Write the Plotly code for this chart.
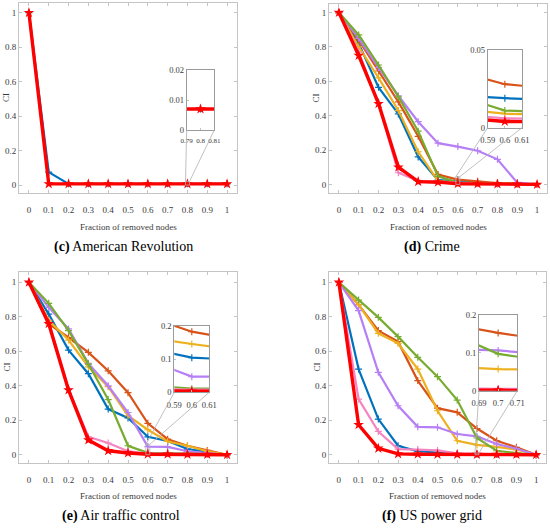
import plotly.graph_objects as go

W, H = 550, 529

x_frac = [0, 0.1, 0.2, 0.3, 0.4, 0.5, 0.6, 0.7, 0.8, 0.9, 1.0]
x_ticks = [0, 0.1, 0.2, 0.3, 0.4, 0.5, 0.6, 0.7, 0.8, 0.9, 1]
x_tick_labels = ["0", "0.1", "0.2", "0.3", "0.4", "0.5", "0.6", "0.7", "0.8", "0.9", "1"]
y_ticks = [0, 0.2, 0.4, 0.6, 0.8, 1]
y_tick_labels = ["0", "0.2", "0.4", "0.6", "0.8", "1"]

colors = {
    "blue": "#0072BD", "orange": "#D95319", "yellow": "#EDB120",
    "purple": "#B77FF5", "green": "#77AC30", "pink": "#F485C0", "red": "#FF0000",
}

# (c) American Revolution
c_blue = [1, 0.075, 0.007, 0.007, 0.007, 0.007, 0.007, 0.007, 0.007, 0.007, 0.007]
c_red = [1, 0.007, 0.007, 0.007, 0.007, 0.007, 0.007, 0.007, 0.007, 0.007, 0.007]

# (d) Crime
d_blue = [1, 0.82, 0.565, 0.41, 0.16, 0.025, 0.019, 0.01, 0.005, 0.002, 0]
d_orange = [1, 0.84, 0.66, 0.48, 0.28, 0.058, 0.028, 0.018, 0.008, 0.004, 0]
d_yellow = [1, 0.80, 0.62, 0.43, 0.19, 0.02, 0.009, 0.006, 0.004, 0.002, 0]
d_purple = [1, 0.85, 0.68, 0.516, 0.365, 0.24, 0.22, 0.196, 0.146, 0.01, 0]
d_green = [1, 0.87, 0.695, 0.51, 0.31, 0.047, 0.011, 0.007, 0.004, 0.002, 0]
d_pink = [1, 0.77, 0.47, 0.068, 0.02, 0.015, 0.006, 0.004, 0.003, 0.002, 0]
d_red = [1, 0.75, 0.47, 0.10, 0.016, 0.013, 0.004, 0.003, 0.002, 0.001, 0]

# (e) Air traffic control
e_blue = [1, 0.816, 0.607, 0.47, 0.265, 0.213, 0.104, 0.08, 0.033, 0.015, 0]
e_orange = [1, 0.76, 0.68, 0.594, 0.487, 0.36, 0.182, 0.09, 0.052, 0.025, 0]
e_yellow = [1, 0.78, 0.665, 0.51, 0.395, 0.226, 0.145, 0.077, 0.052, 0.02, 0]
e_purple = [1, 0.855, 0.73, 0.53, 0.40, 0.245, 0.047, 0.045, 0.02, 0.01, 0]
e_green = [1, 0.878, 0.72, 0.526, 0.32, 0.052, 0.011, 0.01, 0.006, 0.003, 0]
e_pink = [1, 0.77, 0.38, 0.104, 0.068, 0.02, 0.008, 0.006, 0.004, 0.002, 0]
e_red = [1, 0.76, 0.375, 0.085, 0.023, 0.01, 0.003, 0.003, 0.002, 0.001, 0]

# (f) US power grid
f_blue = [1, 0.497, 0.207, 0.052, 0.02, 0.012, 0.005, 0.003, 0.002, 0.001, 0]
f_orange = [1, 0.87, 0.72, 0.656, 0.43, 0.27, 0.246, 0.152, 0.081, 0.043, 0]
f_yellow = [1, 0.87, 0.704, 0.646, 0.497, 0.255, 0.081, 0.057, 0.046, 0.03, 0]
f_purple = [1, 0.836, 0.478, 0.284, 0.162, 0.159, 0.12, 0.106, 0.062, 0.035, 0]
f_green = [1, 0.897, 0.797, 0.685, 0.565, 0.453, 0.317, 0.097, 0.023, 0.01, 0]
f_pink = [1, 0.323, 0.135, 0.033, 0.03, 0.025, 0.008, 0.005, 0.004, 0.002, 0]
f_red = [1, 0.174, 0.037, 0.005, 0.003, 0.002, 0.001, 0.001, 0.001, 0.001, 0]

captions = ["<b>(c)</b> American Revolution", "<b>(d)</b> Crime",
            "<b>(e)</b> Air traffic control", "<b>(f)</b> US power grid"]
x_title = "Fraction of removed nodes"
y_title = "CI"

panels = [
    dict(series=[("blue", c_blue), ("red", c_red)],
         dom_x=(19, 237), dom_y=(3, 193), yr=(-0.046, 1.056),
         inset=dict(dx=(186.7, 214.3), dy=(70, 130), xr=(0.79, 0.81), yr=(0, 0.02),
                    xt=[0.79, 0.8, 0.81], xl=["0.79", "0.8", "0.81"],
                    yt=[0, 0.01, 0.02], yl=["0", "0.01", "0.02"], ty=0.02, xfs=7),
         cap=(123, 247), xtitle_y=227),
    dict(series=[("blue", d_blue), ("orange", d_orange), ("yellow", d_yellow),
                 ("purple", d_purple), ("green", d_green), ("pink", d_pink), ("red", d_red)],
         dom_x=(329, 547), dom_y=(4, 193), yr=(-0.05, 1.05),
         inset=dict(dx=(487.7, 522), dy=(50, 127.7), xr=(0.59, 0.61), yr=(0, 0.05),
                    xt=[0.59, 0.6, 0.61], xl=["0.59", "0.6", "0.61"],
                    yt=[0, 0.05], yl=["0", "0.05"], ty=0.045, xfs=8.5),
         cap=(432, 247), xtitle_y=227),
    dict(series=[("blue", e_blue), ("orange", e_orange), ("yellow", e_yellow),
                 ("purple", e_purple), ("green", e_green), ("pink", e_pink), ("red", e_red)],
         dom_x=(19, 237), dom_y=(272, 463), yr=(-0.048, 1.06),
         inset=dict(dx=(174.3, 209.3), dy=(325.7, 392.3), xr=(0.59, 0.61), yr=(0, 0.2),
                    xt=[0.59, 0.6, 0.61], xl=["0.59", "0.6", "0.61"],
                    yt=[0, 0.1, 0.2], yl=["0", "0.1", "0.2"], ty=0.06, xfs=8.5),
         cap=(121, 516), xtitle_y=496),
    dict(series=[("blue", f_blue), ("orange", f_orange), ("yellow", f_yellow),
                 ("purple", f_purple), ("green", f_green), ("pink", f_pink), ("red", f_red)],
         dom_x=(329, 546), dom_y=(272, 463), yr=(-0.048, 1.06),
         inset=dict(dx=(479, 517.3), dy=(314.7, 390.7), xr=(0.69, 0.71), yr=(0, 0.2),
                    xt=[0.69, 0.7, 0.71], xl=["0.69", "0.7", "0.71"],
                    yt=[0, 0.1, 0.2], yl=["0", "0.1", "0.2"], ty=0.01, xfs=8.5),
         cap=(432, 516), xtitle_y=496),
]

XR = (-0.05, 1.05)
FONT = "Liberation Serif"
TICKC = "#3a3a3a"
FRAME = "#c4c4c4"

fig = go.Figure()
layout = dict(width=W, height=H, margin=dict(l=0, r=0, t=0, b=0, autoexpand=False),
              paper_bgcolor="white", plot_bgcolor="white", showlegend=False)
shapes, annotations = [], []


def px2paper_x(px):
    return px / W


def px2paper_y(py):
    return 1 - py / H


def add_series(series, xa, ya, inset=False):
    for name, vals in series:
        red = name == "red"
        if red:
            marker = dict(symbol="star", size=8, color=colors[name])
            width = 3.4
        else:
            marker = dict(symbol="cross-thin-open", size=5, color=colors[name],
                          line=dict(color=colors[name], width=1.2))
            width = 2.2
        fig.add_trace(go.Scatter(x=x_frac, y=vals, mode="lines+markers",
                                 line=dict(color=colors[name], width=width),
                                 marker=marker, xaxis=xa, yaxis=ya,
                                 hoverinfo="skip", cliponaxis=True))


for i, p in enumerate(panels):
    mi = i + 1
    ii = i + 5
    mx, my = f"x{mi}", f"y{mi}"
    ix, iy = f"x{ii}", f"y{ii}"
    dxm = [px2paper_x(p["dom_x"][0]), px2paper_x(p["dom_x"][1])]
    dym = [px2paper_y(p["dom_y"][1]), px2paper_y(p["dom_y"][0])]
    layout[f"xaxis{mi}"] = dict(domain=dxm, range=list(XR), anchor=my, automargin=False,
                                tickvals=x_ticks, ticktext=x_tick_labels, tickangle=0,
                                ticks="inside", ticklen=3, tickcolor=FRAME,
                                showline=True, linecolor=FRAME, linewidth=1, mirror="ticks",
                                showgrid=False, zeroline=False, ticklabelstandoff=8,
                                tickfont=dict(family=FONT, size=9, color=TICKC))
    layout[f"yaxis{mi}"] = dict(domain=dym, range=list(p["yr"]), anchor=mx, automargin=False,
                                tickvals=y_ticks, ticktext=y_tick_labels,
                                ticks="inside", ticklen=3, tickcolor=FRAME,
                                showline=True, linecolor=FRAME, linewidth=1, mirror="ticks",
                                showgrid=False, zeroline=False,
                                tickfont=dict(family=FONT, size=9, color=TICKC))
    add_series(p["series"], mx, my)

    ins = p["inset"]
    dxi = [px2paper_x(ins["dx"][0]), px2paper_x(ins["dx"][1])]
    dyi = [px2paper_y(ins["dy"][1]), px2paper_y(ins["dy"][0])]
    layout[f"xaxis{ii}"] = dict(domain=dxi, range=list(ins["xr"]), anchor=iy, automargin=False,
                                tickvals=ins["xt"], ticktext=ins["xl"], tickangle=0,
                                ticks="inside", ticklen=2, tickcolor=FRAME,
                                showline=True, linecolor="#9a9a9a", linewidth=1, mirror=True,
                                showgrid=False, zeroline=False, ticklabelstandoff=4,
                                tickfont=dict(family=FONT, size=ins["xfs"], color=TICKC))
    layout[f"yaxis{ii}"] = dict(domain=dyi, range=list(ins["yr"]), anchor=ix, automargin=False,
                                tickvals=ins["yt"], ticktext=ins["yl"],
                                ticks="inside", ticklen=2, tickcolor=FRAME,
                                showline=True, linecolor="#9a9a9a", linewidth=1, mirror=True,
                                showgrid=False, zeroline=False,
                                tickfont=dict(family=FONT, size=8.5, color=TICKC))
    add_series(p["series"], ix, iy, inset=True)

    def dx2paper(v):
        return dxm[0] + (v - XR[0]) / (XR[1] - XR[0]) * (dxm[1] - dxm[0])

    def dy2paper(v):
        yr = p["yr"]
        return dym[0] + (v - yr[0]) / (yr[1] - yr[0]) * (dym[1] - dym[0])

    tx0, tx1 = dx2paper(ins["xr"][0]), dx2paper(ins["xr"][1])
    ty = dy2paper(ins["ty"])
    for (sx, ex) in [(dxi[0], tx0), (dxi[1], tx1)]:
        shapes.append(dict(type="line", xref="paper", yref="paper",
                           x0=sx, y0=dyi[0], x1=ex, y1=ty,
                           line=dict(color="#b0b0b0", width=0.8)))
    shapes.append(dict(type="rect", xref="paper", yref="paper",
                       x0=tx0, x1=tx1, y0=dy2paper(0), y1=ty,
                       line=dict(color="#b0b0b0", width=0.8)))

    annotations.append(dict(text=x_title, xref="paper", yref="paper",
                            x=(dxm[0] + dxm[1]) / 2, y=px2paper_y(p["xtitle_y"]),
                            xanchor="center", yanchor="middle",
                            showarrow=False, font=dict(family=FONT, size=9, color=TICKC)))
    annotations.append(dict(text=y_title, xref="paper", yref="paper", textangle=-90,
                            x=px2paper_x(p["dom_x"][0] - 13), y=(dym[0] + dym[1]) / 2,
                            xanchor="center", yanchor="middle",
                            showarrow=False, font=dict(family=FONT, size=9, color=TICKC)))
    annotations.append(dict(text=captions[i], xref="paper", yref="paper",
                            x=px2paper_x(p["cap"][0]), y=px2paper_y(p["cap"][1]),
                            xanchor="center", yanchor="middle",
                            showarrow=False, font=dict(family=FONT, size=14, color="black")))

layout["shapes"] = shapes
layout["annotations"] = annotations
fig.update_layout(**layout)
fig.write_html("out.html", config={"displayModeBar": False},
               post_script="document.body.style.margin='0';document.body.style.overflow='hidden';")
